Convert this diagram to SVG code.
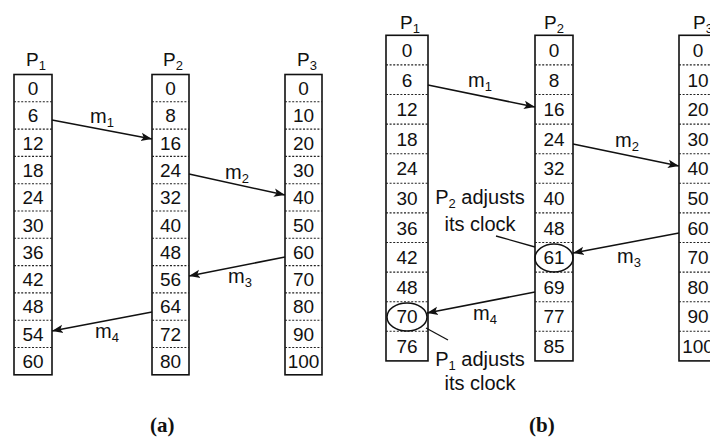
<svg xmlns="http://www.w3.org/2000/svg" width="710" height="441" viewBox="0 0 710 441">
<style>
.col{fill:none;stroke:#111;stroke-width:1.6}
.sep{stroke:#222;stroke-width:1.1;stroke-dasharray:2 1.6}
.num{font-family:"Liberation Sans",Arial,sans-serif;font-size:19px;fill:#111;text-anchor:middle}
.lbl{font-family:"Liberation Sans",Arial,sans-serif;font-size:19px;fill:#111}
.ann{font-family:"Liberation Sans",Arial,sans-serif;font-size:20px;fill:#111;text-anchor:middle}
.sub{font-size:13px}
.msg{stroke:#111;stroke-width:1.5;fill:none;marker-end:url(#ah)}
.lead{stroke:#111;stroke-width:1.3;fill:none}
.circ{fill:none;stroke:#111;stroke-width:1.5}
.cap{font-family:"Liberation Serif","Times New Roman",serif;font-weight:bold;font-size:21px;fill:#111}
</style>
<defs>
<marker id="ah" markerUnits="userSpaceOnUse" markerWidth="12" markerHeight="10" viewBox="0 0 12 10" refX="11" refY="5" orient="auto">
<path d="M0,0.8 L11,5 L0,9.2 L2.5,5 Z" fill="#111"/>
</marker>
</defs>
<rect width="710" height="441" fill="#fff"/>

<!-- (a) -->
<g id="a-P1">
<text class="lbl" x="36" y="66" text-anchor="middle">P<tspan class="sub" dy="4">1</tspan></text>
<rect class="col" x="14" y="74.5" width="38" height="300.3"/>
<g class="sep">
<line x1="14" y1="101.8" x2="52" y2="101.8"/><line x1="14" y1="129.1" x2="52" y2="129.1"/><line x1="14" y1="156.4" x2="52" y2="156.4"/><line x1="14" y1="183.7" x2="52" y2="183.7"/><line x1="14" y1="211" x2="52" y2="211"/><line x1="14" y1="238.3" x2="52" y2="238.3"/><line x1="14" y1="265.6" x2="52" y2="265.6"/><line x1="14" y1="292.9" x2="52" y2="292.9"/><line x1="14" y1="320.2" x2="52" y2="320.2"/><line x1="14" y1="347.5" x2="52" y2="347.5"/>
</g>
<g class="num">
<text x="33" y="95">0</text><text x="33" y="122.3">6</text><text x="33" y="149.6">12</text><text x="33" y="176.9">18</text><text x="33" y="204.2">24</text><text x="33" y="231.5">30</text><text x="33" y="258.8">36</text><text x="33" y="286.1">42</text><text x="33" y="313.4">48</text><text x="33" y="340.7">54</text><text x="33" y="368">60</text>
</g>
</g>

<g id="a-P2">
<text class="lbl" x="173" y="66" text-anchor="middle">P<tspan class="sub" dy="4">2</tspan></text>
<rect class="col" x="152" y="74.5" width="37" height="300.3"/>
<g class="sep">
<line x1="152" y1="101.8" x2="189" y2="101.8"/><line x1="152" y1="129.1" x2="189" y2="129.1"/><line x1="152" y1="156.4" x2="189" y2="156.4"/><line x1="152" y1="183.7" x2="189" y2="183.7"/><line x1="152" y1="211" x2="189" y2="211"/><line x1="152" y1="238.3" x2="189" y2="238.3"/><line x1="152" y1="265.6" x2="189" y2="265.6"/><line x1="152" y1="292.9" x2="189" y2="292.9"/><line x1="152" y1="320.2" x2="189" y2="320.2"/><line x1="152" y1="347.5" x2="189" y2="347.5"/>
</g>
<g class="num">
<text x="170.5" y="95">0</text><text x="170.5" y="122.3">8</text><text x="170.5" y="149.6">16</text><text x="170.5" y="176.9">24</text><text x="170.5" y="204.2">32</text><text x="170.5" y="231.5">40</text><text x="170.5" y="258.8">48</text><text x="170.5" y="286.1">56</text><text x="170.5" y="313.4">64</text><text x="170.5" y="340.7">72</text><text x="170.5" y="368">80</text>
</g>
</g>

<g id="a-P3">
<text class="lbl" x="307" y="66" text-anchor="middle">P<tspan class="sub" dy="4">3</tspan></text>
<rect class="col" x="285" y="74.5" width="37" height="300.3"/>
<g class="sep">
<line x1="285" y1="101.8" x2="322" y2="101.8"/><line x1="285" y1="129.1" x2="322" y2="129.1"/><line x1="285" y1="156.4" x2="322" y2="156.4"/><line x1="285" y1="183.7" x2="322" y2="183.7"/><line x1="285" y1="211" x2="322" y2="211"/><line x1="285" y1="238.3" x2="322" y2="238.3"/><line x1="285" y1="265.6" x2="322" y2="265.6"/><line x1="285" y1="292.9" x2="322" y2="292.9"/><line x1="285" y1="320.2" x2="322" y2="320.2"/><line x1="285" y1="347.5" x2="322" y2="347.5"/>
</g>
<g class="num">
<text x="303.5" y="95">0</text><text x="303.5" y="122.3">10</text><text x="303.5" y="149.6">20</text><text x="303.5" y="176.9">30</text><text x="303.5" y="204.2">40</text><text x="303.5" y="231.5">50</text><text x="303.5" y="258.8">60</text><text x="303.5" y="286.1">70</text><text x="303.5" y="313.4">80</text><text x="303.5" y="340.7">90</text><text x="303.5" y="368">100</text>
</g>
</g>

<!-- (b) -->
<g id="b-P1">
<text class="lbl" x="410" y="29" text-anchor="middle">P<tspan class="sub" dy="4">1</tspan></text>
<rect class="col" x="386" y="35.3" width="42" height="325.6"/>
<g class="sep">
<line x1="386" y1="64.9" x2="428" y2="64.9"/><line x1="386" y1="94.5" x2="428" y2="94.5"/><line x1="386" y1="124.1" x2="428" y2="124.1"/><line x1="386" y1="153.7" x2="428" y2="153.7"/><line x1="386" y1="183.3" x2="428" y2="183.3"/><line x1="386" y1="212.9" x2="428" y2="212.9"/><line x1="386" y1="242.5" x2="428" y2="242.5"/><line x1="386" y1="272.1" x2="428" y2="272.1"/><line x1="386" y1="301.7" x2="428" y2="301.7"/><line x1="386" y1="331.3" x2="428" y2="331.3"/>
</g>
<g class="num">
<text x="407" y="57">0</text><text x="407" y="86.6">6</text><text x="407" y="116.2">12</text><text x="407" y="145.8">18</text><text x="407" y="175.4">24</text><text x="407" y="205">30</text><text x="407" y="234.6">36</text><text x="407" y="264.2">42</text><text x="407" y="293.8">48</text><text x="407" y="323.4">70</text><text x="407" y="353">76</text>
</g>
</g>

<g id="b-P2">
<text class="lbl" x="554" y="29" text-anchor="middle">P<tspan class="sub" dy="4">2</tspan></text>
<rect class="col" x="535" y="35.3" width="38" height="325.6"/>
<g class="sep">
<line x1="535" y1="64.9" x2="573" y2="64.9"/><line x1="535" y1="94.5" x2="573" y2="94.5"/><line x1="535" y1="124.1" x2="573" y2="124.1"/><line x1="535" y1="153.7" x2="573" y2="153.7"/><line x1="535" y1="183.3" x2="573" y2="183.3"/><line x1="535" y1="212.9" x2="573" y2="212.9"/><line x1="535" y1="242.5" x2="573" y2="242.5"/><line x1="535" y1="272.1" x2="573" y2="272.1"/><line x1="535" y1="301.7" x2="573" y2="301.7"/><line x1="535" y1="331.3" x2="573" y2="331.3"/>
</g>
<g class="num">
<text x="554" y="57">0</text><text x="554" y="86.6">8</text><text x="554" y="116.2">16</text><text x="554" y="145.8">24</text><text x="554" y="175.4">32</text><text x="554" y="205">40</text><text x="554" y="234.6">48</text><text x="554" y="264.2">61</text><text x="554" y="293.8">69</text><text x="554" y="323.4">77</text><text x="554" y="353">85</text>
</g>
</g>

<g id="b-P3">
<text class="lbl" x="693" y="29">P<tspan class="sub" dy="4">3</tspan></text>
<rect class="col" x="679" y="35.3" width="38" height="325.6"/>
<g class="sep">
<line x1="679" y1="64.9" x2="717" y2="64.9"/><line x1="679" y1="94.5" x2="717" y2="94.5"/><line x1="679" y1="124.1" x2="717" y2="124.1"/><line x1="679" y1="153.7" x2="717" y2="153.7"/><line x1="679" y1="183.3" x2="717" y2="183.3"/><line x1="679" y1="212.9" x2="717" y2="212.9"/><line x1="679" y1="242.5" x2="717" y2="242.5"/><line x1="679" y1="272.1" x2="717" y2="272.1"/><line x1="679" y1="301.7" x2="717" y2="301.7"/><line x1="679" y1="331.3" x2="717" y2="331.3"/>
</g>
<g class="num">
<text x="698" y="57">0</text><text x="698" y="86.6">10</text><text x="698" y="116.2">20</text><text x="698" y="145.8">30</text><text x="698" y="175.4">40</text><text x="698" y="205">50</text><text x="698" y="234.6">60</text><text x="698" y="264.2">70</text><text x="698" y="293.8">80</text><text x="698" y="323.4">90</text><text x="698" y="353">100</text>
</g>
</g>

<g id="b-marks">
<ellipse class="circ" cx="554" cy="258" rx="19" ry="14"/>
<ellipse class="circ" cx="407" cy="317" rx="20" ry="14"/>
<text class="ann" x="480" y="204">P<tspan class="sub" dy="4">2</tspan><tspan dy="-4"> adjusts</tspan></text>
<text class="ann" x="480" y="231">its clock</text>
<text class="ann" x="480" y="366">P<tspan class="sub" dy="4">1</tspan><tspan dy="-4"> adjusts</tspan></text>
<text class="ann" x="480" y="390">its clock</text>
</g>

<g id="connectors">
<line class="msg" x1="52" y1="120" x2="152" y2="139"/>
<line class="msg" x1="189" y1="174" x2="285" y2="195"/>
<line class="msg" x1="285" y1="257" x2="189" y2="276"/>
<line class="msg" x1="152" y1="312" x2="52" y2="331"/>
<line class="msg" x1="428" y1="85" x2="535" y2="107"/>
<line class="msg" x1="573" y1="144" x2="679" y2="166"/>
<line class="msg" x1="679" y1="233" x2="573" y2="253"/>
<line class="msg" x1="535" y1="292" x2="427" y2="313"/>
<line class="lead" x1="496" y1="236" x2="535" y2="247"/>
<line class="lead" x1="426" y1="328" x2="448" y2="340"/>
</g>

<g id="msg-labels" class="lbl" style="font-size:20px">
<text x="90" y="123">m<tspan class="sub" dy="4">1</tspan></text>
<text x="225" y="179">m<tspan class="sub" dy="4">2</tspan></text>
<text x="228" y="283">m<tspan class="sub" dy="4">3</tspan></text>
<text x="95" y="338">m<tspan class="sub" dy="4">4</tspan></text>
<text x="468" y="87">m<tspan class="sub" dy="4">1</tspan></text>
<text x="615" y="147">m<tspan class="sub" dy="4">2</tspan></text>
<text x="617" y="263">m<tspan class="sub" dy="4">3</tspan></text>
<text x="473" y="320">m<tspan class="sub" dy="4">4</tspan></text>
</g>

<text class="cap" x="150" y="432">(a)</text>
<text class="cap" x="529" y="432">(b)</text>
</svg>
